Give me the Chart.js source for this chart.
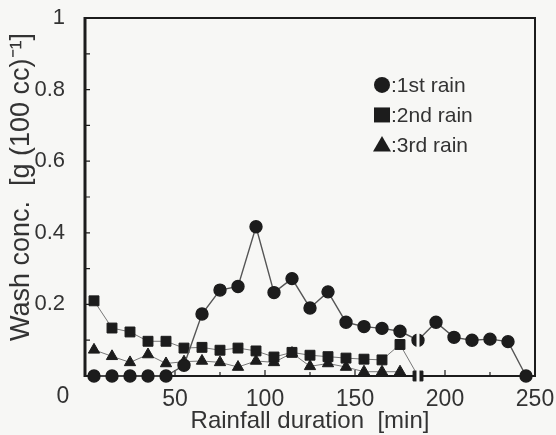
<!DOCTYPE html>
<html>
<head>
<meta charset="utf-8">
<script src="https://cdn.jsdelivr.net/npm/chart.js"></script>
<style>
  body { margin: 0; background: #f7f7f5; }
  #wrap { width: 556px; height: 435px; }
</style>
</head>
<body>
<div id="wrap"><canvas id="washChart"></canvas></div>
<script>
// rainfall duration [min] for each sampling, per rain event
const time1st = [5, 15, 25, 35, 45, 55, 65, 75, 85, 95, 105, 115, 125, 135, 145, 155, 165, 175, 185, 195, 205, 215, 225, 235, 245];
const time2nd = [5, 15, 25, 35, 45, 55, 65, 75, 85, 95, 105, 115, 125, 135, 145, 155, 165, 175, 185];
const time3rd = [5, 15, 25, 35, 45, 55, 65, 75, 85, 95, 105, 115, 125, 135, 145, 155, 165, 175];

// wash concentration [g (100 cc)^-1]
const conc1st = [0, 0, 0, 0, 0, 0.03, 0.173, 0.24, 0.25, 0.417, 0.233, 0.272, 0.19, 0.235, 0.15, 0.138, 0.133, 0.125, 0.1, 0.15, 0.108, 0.1, 0.103, 0.096, 0];
const conc2nd = [0.21, 0.134, 0.123, 0.097, 0.097, 0.078, 0.08, 0.072, 0.078, 0.07, 0.053, 0.066, 0.058, 0.054, 0.05, 0.047, 0.045, 0.088, 0];
const conc3rd = [0.073, 0.055, 0.038, 0.06, 0.035, 0.04, 0.042, 0.038, 0.025, 0.042, 0.038, 0.064, 0.027, 0.035, 0.025, 0.012, 0.012, 0.012];

const xLabels = [0, 50, 100, 150, 200, 250];
const xTickMarks = [25, 50, 75, 100, 125, 150, 175, 200, 225];
const yTickMarks = [0.1, 0.2, 0.3, 0.4, 0.5, 0.6, 0.7, 0.8, 0.9];
const breakAt = 185;

const ink = '#1c1c1c';
const paper = '#f7f7f5';
const fontFamily = '"Liberation Sans", Arial, Helvetica, sans-serif';

const toPoints = (xs, ys) => xs.map((t, i) => ({ x: t, y: ys[i] }));

const framePlugin = {
    id: 'frame',
    beforeDatasetsDraw(chart) {
        const { ctx, chartArea: a, scales: { x, y } } = chart;
        ctx.save();
        ctx.strokeStyle = ink;
        ctx.lineWidth = 2;
        ctx.strokeRect(a.left, a.top, a.right - a.left, a.bottom - a.top);
        ctx.lineWidth = 3;
        ctx.beginPath();
        ctx.moveTo(a.left, a.top - 1);
        ctx.lineTo(a.left, a.bottom + 1);
        ctx.stroke();
        // small ticks pointing inward
        ctx.lineWidth = 1.2;
        ctx.beginPath();
        xTickMarks.forEach(v => {
            const px = x.getPixelForValue(v);
            const len = v % 50 === 0 ? 6 : 4;
            ctx.moveTo(px, a.bottom);
            ctx.lineTo(px, a.bottom - len);
        });
        yTickMarks.forEach(v => {
            const py = y.getPixelForValue(v);
            ctx.moveTo(a.left, py);
            ctx.lineTo(a.left + 5, py);
        });
        ctx.stroke();
        ctx.restore();
    },
    afterDatasetsDraw(chart) {
        const { ctx, chartArea: a, scales: { x, y } } = chart;
        ctx.save();
        // axis break: thin band cutting the axis and the markers
        const bx = x.getPixelForValue(breakAt);
        const by = y.getPixelForValue(0.125);
        ctx.fillStyle = paper;
        ctx.fillRect(bx - 1.5, by, 3, a.bottom + 7 - by);

        // shared origin label
        ctx.fillStyle = '#333';
        ctx.font = '23px ' + fontFamily;
        ctx.textAlign = 'center';
        ctx.textBaseline = 'middle';
        ctx.fillText('0', a.left - 22, a.bottom + 21);

        // legend inside the plot
        ctx.font = '21px ' + fontFamily;
        ctx.textAlign = 'left';
        const lx = a.left + (a.right - a.left) * 0.66;
        let ly = a.top + (a.bottom - a.top) * 0.187;
        chart.data.datasets.forEach(ds => {
            ctx.fillStyle = ink;
            ctx.beginPath();
            if (ds.pointStyle === 'circle') {
                ctx.arc(lx, ly, 8, 0, Math.PI * 2);
            } else if (ds.pointStyle === 'rect') {
                ctx.rect(lx - 8, ly - 7.5, 16, 15);
            } else {
                ctx.moveTo(lx, ly - 9);
                ctx.lineTo(lx + 9, ly + 6.5);
                ctx.lineTo(lx - 9, ly + 6.5);
                ctx.closePath();
            }
            ctx.fill();
            ctx.fillStyle = '#333';
            ctx.fillText(':' + ds.label, lx + 9, ly + 1);
            ly += 30;
        });
        ctx.restore();
    }
};

const ctx = document.getElementById('washChart').getContext('2d');
const washChart = new Chart(ctx, {
    type: 'line',
    data: {
        datasets: [
            { label: '1st rain', data: toPoints(time1st, conc1st), pointStyle: 'circle', pointRadius: 6,
              borderColor: '#555', borderWidth: 1.4, backgroundColor: ink, pointBorderColor: ink, clip: false },
            { label: '2nd rain', data: toPoints(time2nd, conc2nd), pointStyle: 'rect', pointRadius: 7,
              borderColor: '#777', borderWidth: 1, backgroundColor: ink, pointBorderColor: ink, clip: false },
            { label: '3rd rain', data: toPoints(time3rd, conc3rd), pointStyle: 'triangle', pointRadius: 6.5,
              borderColor: '#777', borderWidth: 1, backgroundColor: ink, pointBorderColor: ink, clip: false }
        ]
    },
    options: {
        responsive: true,
        maintainAspectRatio: false,
        animation: false,
        layout: { padding: { top: 18, right: 21, left: 0, bottom: 0 } },
        elements: { line: { tension: 0 }, point: { borderWidth: 0 } },
        scales: {
            x: {
                type: 'linear',
                min: 0,
                max: 250,
                grid: { display: false },
                border: { display: false },
                afterBuildTicks: s => { s.ticks = xLabels.map(v => ({ value: v })); },
                afterFit: s => { s.height = 59; s.paddingLeft = 0; s.paddingRight = 0; },
                ticks: {
                    color: '#333',
                    font: { family: fontFamily, size: 23 },
                    padding: 2,
                    maxRotation: 0,
                    callback: v => (v === 0 ? '' : v)
                },
                title: {
                    display: true,
                    text: 'Rainfall duration  [min]',
                    color: '#333',
                    font: { family: fontFamily, size: 24, lineHeight: 1 },
                    padding: { top: 0, bottom: 2 }
                }
            },
            y: {
                min: 0,
                max: 1,
                grid: { display: false },
                border: { display: false },
                afterFit: s => { s.width = 85; s.paddingTop = 0; s.paddingBottom = 0; },
                ticks: {
                    stepSize: 0.2,
                    color: '#333',
                    font: { family: fontFamily, size: 22 },
                    padding: 12,
                    callback: v => (v === 0 ? '' : v === 1 ? '1' : v.toFixed(1))
                },
                title: {
                    display: true,
                    align: 'end',
                    text: 'Wash conc.  [g (100 cc)\u207B\u00B9]  ',
                    color: '#333',
                    font: { family: fontFamily, size: 27, lineHeight: 1 },
                    padding: { top: 8, bottom: 0 }
                }
            }
        },
        plugins: {
            legend: { display: false },
            tooltip: { enabled: false }
        }
    },
    plugins: [framePlugin]
});
</script>
</body>
</html>
